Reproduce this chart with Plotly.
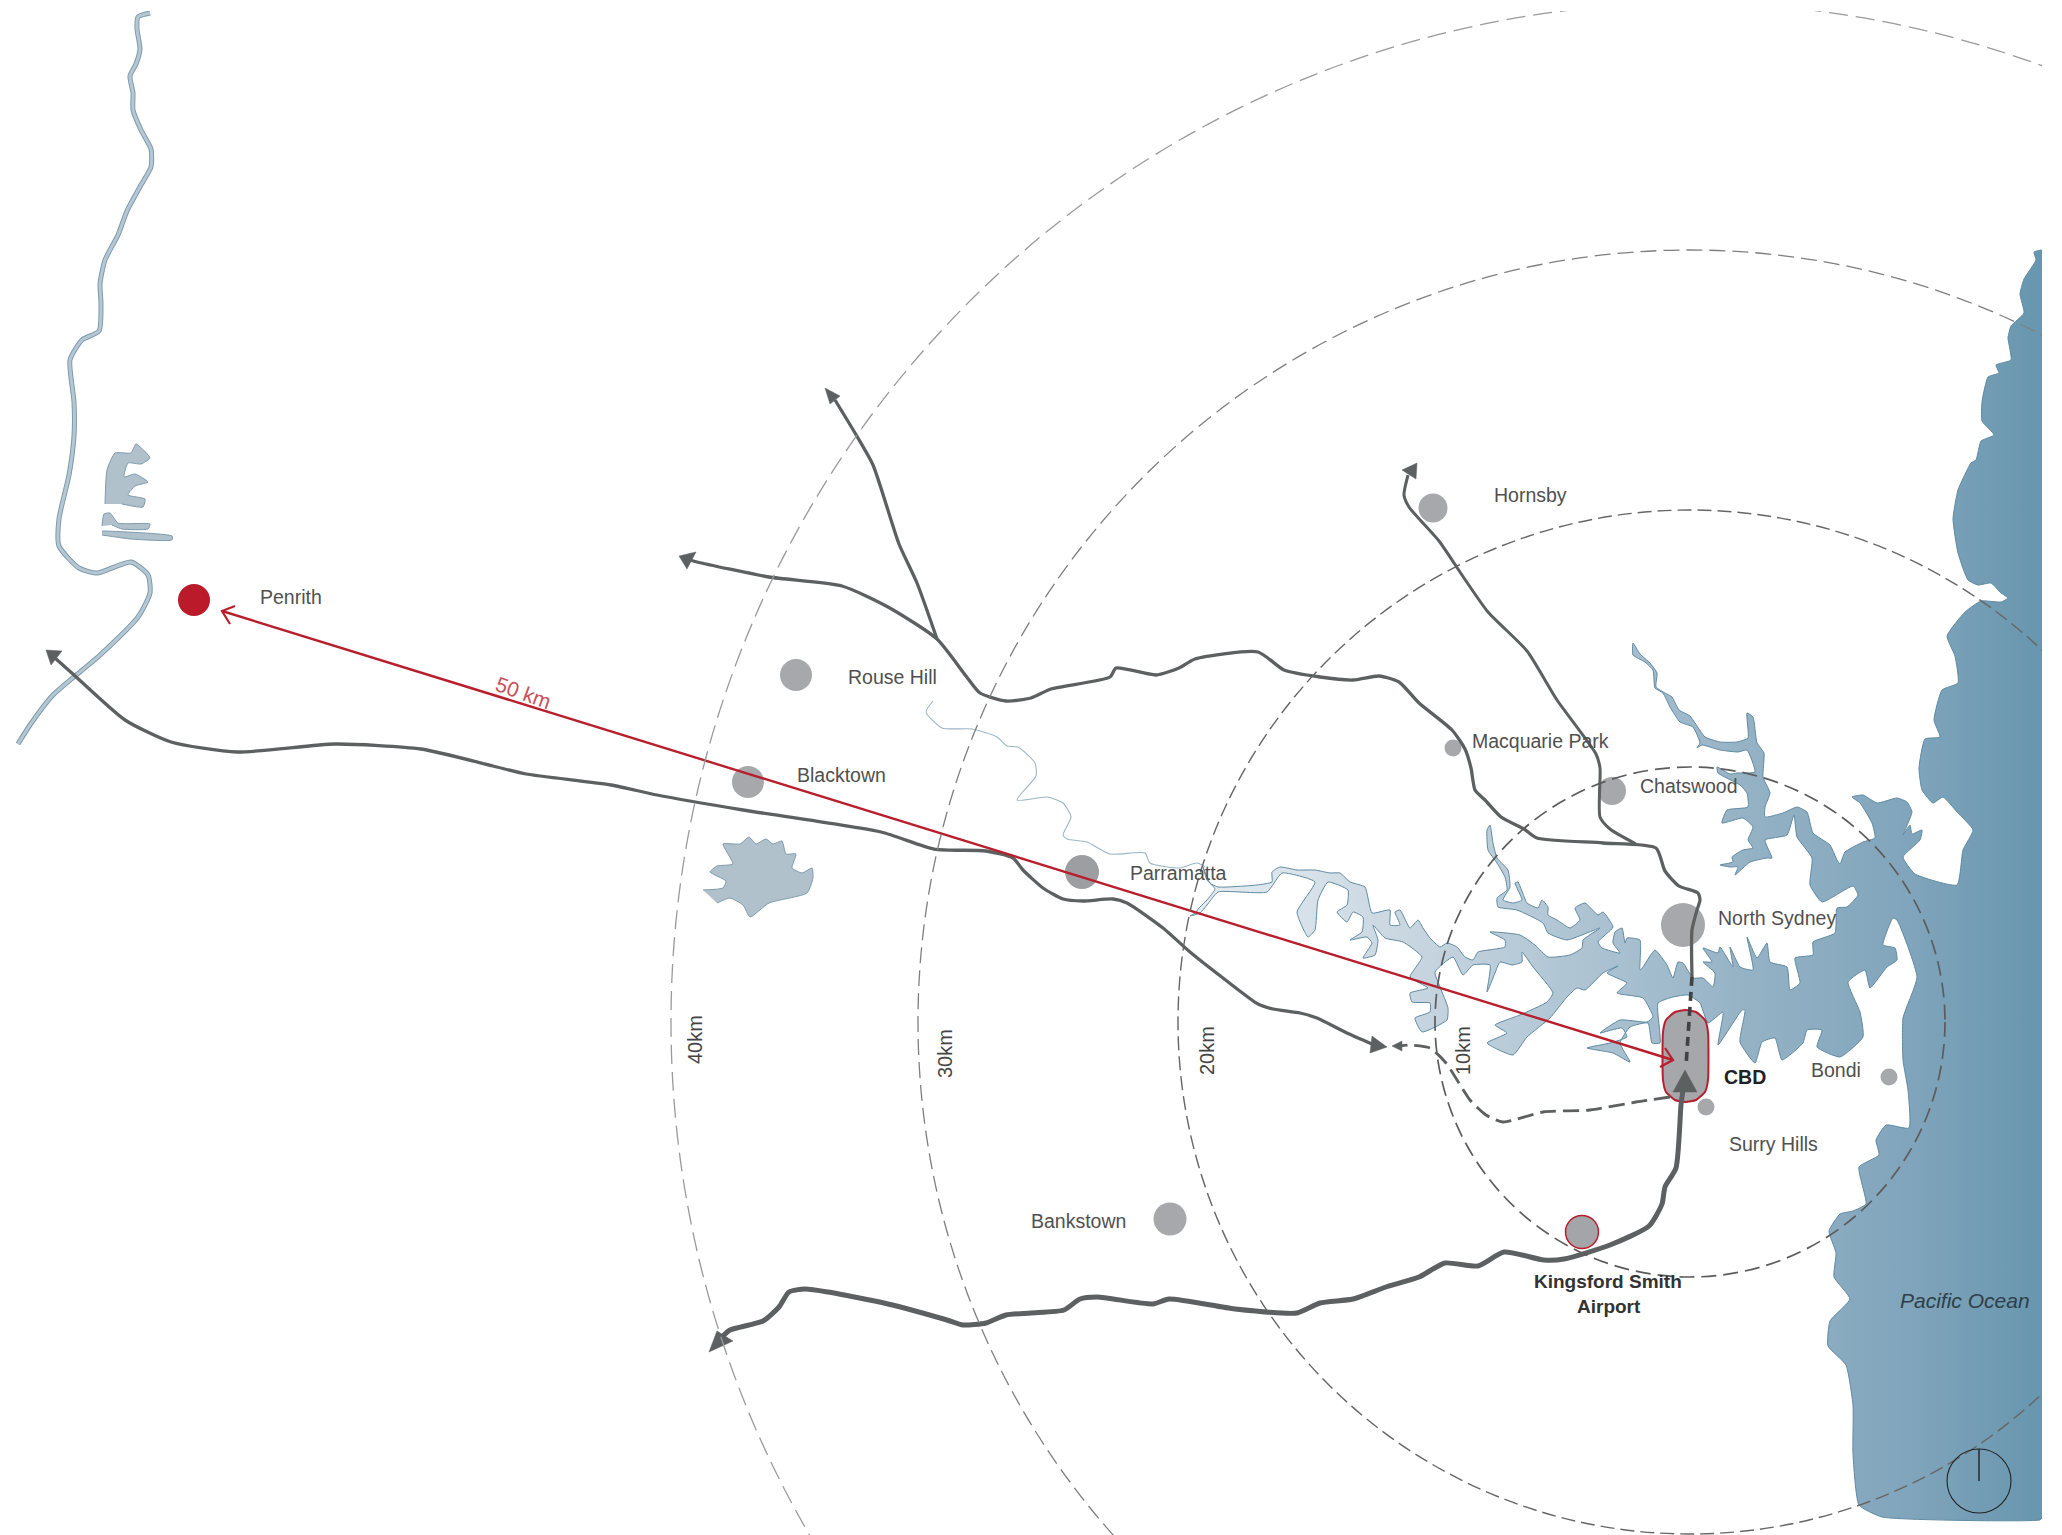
import plotly.graph_objects as go

# Map units are reference pixels.
ring_centre = (1690, 1022)
ring_radii = [255, 512, 772, 1019]
ring_colors = ["#5c5c5c", "#666666", "#7f7f7f", "#9a9a9a"]
ring_widths = [1.7, 1.4, 1.3, 1.3]
ring_dashes = ["15px,7px", "14px,6px", "16px,7px", "19px,8px"]

water_outline = [
(2042,250),(2034,252),(2036,260),(2024,279),(2020,294),(2024,313),(2011,326),(2008,338),(2011,360),(1996,365),(1999,373),(1988,377),(1982,402),(1982,421),(1994,435),(1981,441),(1976,460),(1971,463),(1958,490),(1953,519),(1958,553),(1968,580),(1978,585),(1991,583),(2001,593),(2008,598),(2001,602),(1981,601),(1965,612),(1947,636),(1955,656),(1958,683),(1942,690),(1934,720),(1940,737),(1925,739),(1919,768),
(1922,790),(1933,803),(1943,797),(1957,812),(1973,830),(1963,850),(1957,885),(1915,874),(1903,857),(1920,840),(1922,830),(1912,834),(1910,825),(1903,835),(1912,812),(1907,802),(1897,798),(1877,803),(1863,795),(1852,797),(1860,803),(1872,823),(1875,838),(1863,842),(1845,852),(1840,864),(1837,860),(1830,845),(1813,833),(1807,812),(1797,807),(1783,813),(1765,817),
(1765,807),(1770,793),(1763,777),(1764,753),(1757,743),(1753,717),(1747,713),(1748,738),(1737,742),(1720,742),(1705,737),(1695,723),(1690,716),(1679,710),(1672,697),(1665,693),(1656,687),(1657,673),(1650,663),(1640,654),(1633,643),(1633,655),(1645,662),(1653,670),(1655,688),(1663,693),(1670,707),(1680,722),(1693,727),(1700,743),(1697,748),(1702,745),(1720,750),(1738,752),(1747,750),(1755,772),(1737,773),(1730,774),(1717,767),(1718,773),(1740,785),(1747,793),(1748,807),(1727,810),(1722,823),(1743,818),(1753,827),(1748,840),(1753,848),(1743,850),(1732,857),(1733,862),(1720,865),(1730,867),(1738,867),(1735,875),(1750,862),(1767,858),(1772,858),
(1765,840),(1787,835),(1794,815),(1797,837),(1812,858),(1810,885),(1822,902),(1853,886),(1858,895),(1847,907),(1837,908),(1835,933),(1813,942),(1813,955),(1795,958),(1800,983),(1790,990),(1787,967),(1770,962),(1767,943),(1757,958),(1747,937),(1753,970),(1740,967),(1730,947),(1733,967),(1720,947),(1718,953),(1703,948),(1712,962),(1703,962),(1715,973),(1713,987),(1703,978),(1693,978),
(1683,963),(1678,962),(1673,978),(1667,965),(1655,950),(1643,967),(1640,970),(1640,940),(1627,938),(1625,943),(1622,928),(1615,932),(1613,943),(1620,953),(1602,948),(1598,942),(1613,927),(1603,912),(1598,915),(1585,903),(1575,908),(1580,920),(1570,928),(1557,920),(1548,915),(1548,907),(1542,900),(1538,908),(1527,903),(1518,882),(1515,883),(1522,900),(1513,903),(1503,900),(1510,887),(1508,870),(1497,858),(1493,843),(1490,825),(1487,830),(1488,850),(1497,863),(1505,877),(1507,890),(1497,898),(1498,907),(1517,910),(1543,923),(1548,933),(1567,940),(1600,928),(1583,940),(1582,948),(1570,955),(1548,957),(1535,945),(1520,935),(1490,932),(1505,940),(1505,947),(1478,952),
(1473,960),(1465,957),(1457,947),(1447,943),(1440,947),(1430,938),(1423,928),(1418,920),(1410,928),(1400,910),(1395,912),(1400,925),(1390,925),(1390,910),(1372,913),(1365,887),(1350,882),(1340,873),(1330,873),(1315,870),(1297,870),(1280,867),(1272,872),(1272,882),(1257,885),(1218,887),(1210,883),(1203,867),(1207,880),(1215,889),(1207,900),(1200,907),(1195,913),(1190,916),(1200,913),(1207,905),(1218,892),(1267,892),(1282,873),(1315,882),(1297,912),(1308,937),(1315,930),(1318,900),(1328,882),(1348,890),(1347,905),(1337,912),(1347,922),(1353,912),(1363,917),(1362,932),(1350,940),(1367,937),(1372,943),(1363,958),(1375,955),(1378,940),(1373,925),(1385,938),(1403,942),(1422,957),(1410,977),(1428,988),(1410,993),(1412,1002),(1430,1003),(1430,1012),(1415,1018),(1422,1032),(1447,1020),(1448,1008),(1440,987),(1435,972),(1453,957),(1463,975),(1473,965),(1490,965),
(1487,992),(1495,973),(1500,962),(1512,965),(1522,962),(1522,952),(1533,967),(1553,993),(1547,1002),(1520,1015),(1495,1025),(1507,1033),(1487,1043),(1513,1055),(1527,1037),(1550,1018),(1567,997),(1577,988),(1585,990),(1603,973),(1618,966),(1607,973),(1627,983),(1617,993),(1643,998),(1653,1017),(1647,1022),(1620,1020),(1600,1033),(1622,1028),(1627,1037),(1610,1043),(1587,1048),(1613,1053),(1630,1062),(1620,1043),(1630,1027),(1648,1023),(1652,1043),(1660,1043),(1658,1003),(1673,997),(1688,995),
(1700,1003),(1708,1023),(1723,1012),(1718,1045),(1733,1023),(1742,1010),(1745,1010),(1740,1042),(1755,1063),(1762,1042),(1775,1038),(1782,1060),(1803,1043),(1807,1030),(1822,1030),(1817,1047),(1840,1057),(1863,1037),(1860,1012),(1848,982),(1865,970),(1870,988),(1887,967),(1897,960),(1895,948),(1883,945),(1893,918),(1897,920),(1917,977),(1903,1018),(1903,1060),(1908,1090),(1909,1128),
(1886,1125),(1876,1140),(1879,1155),(1859,1167),(1866,1204),(1853,1211),(1840,1214),(1829,1231),(1836,1253),(1834,1277),(1850,1299),(1830,1321),(1828,1346),(1846,1365),(1853,1405),(1853,1454),(1859,1505),(1882,1517),(2040,1520),(2042,1518),
]
water_stops = [[0, "#e6edf2"], [0.25, "#c8d6e0"], [0.45, "#aec4d3"], [0.65, "#95b2c5"], [0.85, "#7fa4bb"], [1, "#6796ae"]]

western_river = [(150,13),(138,17),(137,29),(140,49),(136,64),(130,76),(133,93),(133,110),(141,130),(151,149),(151,167),(141,185),(127,211),(118,235),(105,260),(100,284),(101,304),(99,331),(82,340),(70,360),(74,402),(74,436),(69,475),(59,519),(59,546),(79,568),(97,573),(131,562),(148,575),(150,593),(138,617),(99,656),(53,695),(30,725),(18,744)]
lake_one = [(105,504),(107,470),(115,453),(131,453),(136,444),(150,458),(141,464),(128,463),(124,477),(135,474),(148,482),(135,486),(128,495),(145,499),(143,507),(122,504)]
lake_two = [(102,526),(104,514),(110,513),(118,523),(150,524),(148,529),(122,529),(112,525)]
lake_three = [(102,531),(105,531),(172,536),(172,540),(131,539),(102,535)]
prospect = [(703,890),(723,888),(726,881),(710,872),(717,866),(733,864),(723,844),(740,844),(749,837),(756,844),(766,839),(773,844),(782,841),(786,854),(796,854),(792,868),(802,873),(812,868),(813,878),(807,893),(769,903),(750,917),(743,905),(730,898),(717,903)]
upper_river = [(933,701),(926,712),(942,728),(972,729),(997,737),(1007,746),(1018,747),(1035,763),(1036,776),(1017,800),(1047,797),(1063,803),(1071,817),(1063,835),(1067,839),(1087,842),(1110,854),(1145,853),(1150,863),(1180,868),(1197,863),(1205,867)]

west_line = [(55,658),(74,675),(125,720),(171,742),(237,752),(335,744),(421,749),(493,766),(526,774),(611,785),(657,795),(743,810),(881,832),(934,849),(986,851),(1013,858),(1023,870),(1043,888),(1063,899),(1083,901),(1113,899),(1127,903),(1163,928),(1190,952),(1223,978),(1258,1004),(1273,1009),(1300,1013),(1317,1018),(1347,1033),(1372,1044)]
south_line = [(1683,1090),(1681,1105),(1676,1168),(1665,1187),(1662,1204),(1649,1226),(1610,1245),(1564,1259),(1544,1260),(1504,1252),(1478,1266),(1445,1263),(1419,1277),(1386,1287),(1353,1299),(1320,1303),(1297,1313),(1235,1309),(1169,1299),(1153,1304),(1097,1297),(1080,1299),(1064,1310),(1031,1313),(1006,1315),(986,1323),(963,1325),(947,1320),(888,1304),(828,1292),(805,1289),(789,1292),(779,1307),(763,1321),(730,1330),(722,1337)]
north_line = [(1692,977),(1692,930),(1697,910),(1700,900),(1698,893),(1679,886),(1665,871),(1656,848),(1603,843),(1537,838),(1524,829),(1501,817),(1485,800),(1475,790),(1471,768),(1465,749),(1452,730),(1419,703),(1399,682),(1379,676),(1353,680),(1320,677),(1284,670),(1258,652),(1195,659),(1179,668),(1156,675),(1116,668),(1110,677),(1051,689),(1031,698),(1006,701),(980,693),(966,676),(937,639),(888,607),(842,586),(769,577),(697,562),(690,560)]
richmond_line = [(937,639),(917,583),(899,544),(873,465),(855,433),(835,400)]
hornsby_line = [(1636,844),(1610,829),(1600,817),(1600,768),(1596,754),(1557,700),(1527,651),(1488,612),(1462,575),(1439,541),(1409,507),(1404,495),(1408,475)]
cbd_dash = [(1692,977),(1686,1066)]
airport_dash = [(1670,1097),(1636,1102),(1590,1110),(1543,1112),(1503,1122),(1486,1115),(1470,1100),(1446,1063),(1430,1048),(1410,1045),(1400,1046)]
arrow_heads = [
    [(709,1352),(717,1331),(733,1341)],
    [(1685,1070),(1673,1092),(1697,1092)],
    [(46,650),(62,651),(51,665)],
    [(1387,1047),(1372,1036),(1370,1053)],
    [(679,556),(696,552),(687,569)],
    [(825,388),(840,396),(830,404)],
    [(1417,463),(1402,470),(1416,479)],
    [(1392,1046),(1402,1041),(1402,1051)],
]
red_line = [(222,611),(1673,1060)]
red_head_west = [(235,606),(222,611),(230,624)]
red_head_east = [(1665,1048),(1673,1060),(1660,1067)]
cbd_pill = [(1663,1032),(1666,1020),(1675,1012),(1685.5,1010),(1696,1012),(1705,1020),(1708,1032),(1708,1080),(1705,1092),(1696,1100),(1685.5,1102),(1675,1100),(1666,1092),(1663,1080),(1663,1032)]

town_x = [796, 748, 1082, 1170, 1433, 1453, 1612, 1683, 1706, 1889]
town_y = [675, 782, 872, 1219, 508, 748, 791, 925, 1107, 1077]
town_size = [32, 32, 34, 33, 29, 17, 28, 44, 17, 17]
town_color = ["#a7a8ab", "#a7a8ab", "#9d9ea1", "#a7a8ab", "#a7a8ab", "#a7a8ab", "#a7a8ab", "#a7a8ab", "#a7a8ab", "#a7a8ab"]
penrith = (194, 600, 32)
airport = (1582, 1232, 33)

label_text = ["Penrith", "Rouse Hill", "Blacktown", "Parramatta", "Hornsby", "Macquarie Park", "Chatswood", "North Sydney", "Bondi", "Surry Hills", "Bankstown"]
label_x = [259, 847, 796, 1129, 1493, 1471, 1639, 1717, 1810, 1728, 1030]
label_y = [597, 677, 775, 873, 495, 741, 786, 918, 1070, 1144, 1221]
ring_label_text = ["40km", "30km", "20km", "10km"]
ring_label_x = [695, 945, 1207, 1463]
ring_label_y = [1040, 1054, 1051, 1051]
compass_centre = (1979, 1481)
compass_radius = 32

GREY = "#5d6060"
RED = "#b81f2d"
FONT = "Liberation Sans"
fig = go.Figure()

def xs(p): return [a for a, _ in p]
def ys(p): return [b for _, b in p]

def poly(p, fill, edge, w=1, smooth=0.5):
    shape = "spline" if smooth else "linear"
    fig.add_trace(go.Scatter(x=xs(p), y=ys(p), mode="lines", fill="toself", fillcolor=fill,
                             line=dict(color=edge, width=w, shape=shape, smoothing=smooth or 1), hoverinfo="skip"))

def path(p, color, w, dash="solid", smooth=True):
    fig.add_trace(go.Scatter(
        x=xs(p), y=ys(p), mode="lines",
        line=dict(color=color, width=w, dash=dash, shape="spline" if smooth else "linear", smoothing=0.6),
        hoverinfo="skip"))

fig.add_trace(go.Scatter(
    x=xs(water_outline), y=ys(water_outline), mode="lines", fill="toself",
    fillgradient=dict(type="horizontal", colorscale=water_stops, start=1200, stop=2042),
    line=dict(color="#5f8aa2", width=1, shape="spline", smoothing=0.45), hoverinfo="skip"))

path(western_river, "#7d9bad", 5)
path(western_river, "#b5c7d3", 3)
for lake in (lake_one, lake_two, lake_three, prospect):
    poly(lake, "#b1c1cc", "#7d9bad")
path(upper_river, "#9db6c6", 1.1)

poly(cbd_pill, "#a6a7aa", RED, 2)
fig.add_trace(go.Scatter(x=town_x, y=town_y, mode="markers",
                         marker=dict(size=town_size, color=town_color, opacity=1, line=dict(width=0)), hoverinfo="skip"))
fig.add_trace(go.Scatter(x=[penrith[0]], y=[penrith[1]], mode="markers",
                         marker=dict(size=penrith[2], color="#bb1a2b", opacity=1, line=dict(width=0)), hoverinfo="skip"))
fig.add_trace(go.Scatter(x=[airport[0]], y=[airport[1]], mode="markers",
                         marker=dict(size=airport[2], color="#a4a5a8", opacity=1, line=dict(color=RED, width=1.5)), hoverinfo="skip"))

path(west_line, GREY, 3.3)
path(south_line, GREY, 5)
path(north_line, GREY, 3.3)
path(richmond_line, GREY, 3.3)
path(hornsby_line, GREY, 3)
path(cbd_dash, "#3f4142", 3.6, dash="9px,6px", smooth=False)
path(airport_dash, GREY, 2.8, dash="16px,7px")
for head in arrow_heads:
    poly(head + head[:1], GREY, GREY, 0.5, smooth=0)
path(red_line, RED, 2.4, smooth=False)
path(red_head_west, RED, 2.2, smooth=False)
path(red_head_east, RED, 2.2, smooth=False)

shapes = []
cx, cy = ring_centre
for r, c, w, d in zip(ring_radii, ring_colors, ring_widths, ring_dashes):
    shapes.append(dict(type="circle", xref="x", yref="y", x0=cx - r, x1=cx + r, y0=cy - r, y1=cy + r,
                       line=dict(color=c, width=w, dash=d)))
shapes.append(dict(type="rect", xref="x", yref="y", x0=2042, x1=2062, y0=0, y1=1535, fillcolor="white", line=dict(width=0)))
shapes.append(dict(type="rect", xref="x", yref="y", x0=0, x1=2062, y0=0, y1=11, fillcolor="white", line=dict(width=0)))
px, py = compass_centre
shapes.append(dict(type="circle", xref="x", yref="y", x0=px - compass_radius, x1=px + compass_radius,
                   y0=py - compass_radius, y1=py + compass_radius, line=dict(color="#222222", width=1.1)))
shapes.append(dict(type="line", xref="x", yref="y", x0=px, x1=px, y0=py - compass_radius, y1=py,
                   line=dict(color="#222222", width=1.4)))

notes = []
def note(t, x, y, size=19.5, color="#505050", anchor="left", angle=0, bold=False, italic=False):
    s = t
    if bold: s = f"<b>{s}</b>"
    if italic: s = f"<i>{s}</i>"
    notes.append(dict(text=s, x=x, y=y, xref="x", yref="y", showarrow=False, xanchor=anchor, yanchor="middle",
                      textangle=angle, font=dict(family=FONT, size=size, color=color), borderpad=0))

for t, x, y in zip(label_text, label_x, label_y):
    note(t, x, y)
note("CBD", 1723, 1077, size=19.5, color="#222222", bold=True)
note("Kingsford Smith", 1608, 1281, size=19, color="#333333", anchor="center", bold=True)
note("Airport", 1609, 1306, size=19, color="#333333", anchor="center", bold=True)
note("Pacific Ocean", 1899, 1300, size=21, color="#2f3f48", italic=True)
note("50 km", 523, 692, size=21, color="#c8505a", anchor="center", angle=20)
for t, x, y in zip(ring_label_text, ring_label_x, ring_label_y):
    note(t, x, y, size=20, color="#444444", anchor="center", angle=-90)

fig.update_layout(
    width=2054, height=1527, margin=dict(l=0, r=0, t=0, b=0),
    paper_bgcolor="white", plot_bgcolor="white", showlegend=False, shapes=shapes, annotations=notes,
    xaxis=dict(range=[8, 2062], visible=False, fixedrange=True),
    yaxis=dict(range=[1535, 8], visible=False, fixedrange=True),
)
fig.write_html("out.html", config={"displayModeBar": False},
               post_script="document.documentElement.style.overflow='hidden';")
